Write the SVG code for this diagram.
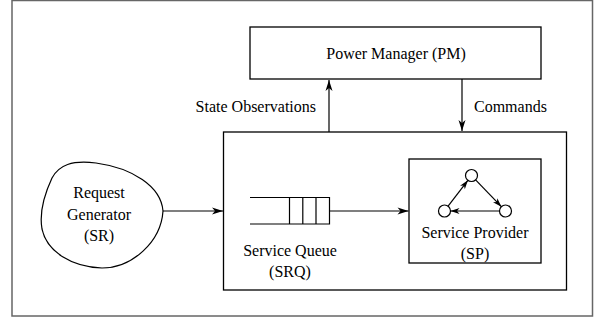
<svg xmlns="http://www.w3.org/2000/svg" width="596" height="320" viewBox="0 0 596 320">
<defs>
<marker id="ah" markerUnits="userSpaceOnUse" markerWidth="14" markerHeight="10" viewBox="-12 -5 14 10" refX="0" refY="0" orient="auto">
<path d="M0,0 L-11,-3.5 L-8,0 L-11,3.5 Z" fill="#000"/>
</marker>
<marker id="ahs" markerUnits="userSpaceOnUse" markerWidth="12" markerHeight="8" viewBox="-10 -4 12 8" refX="0" refY="0" orient="auto">
<path d="M0,0 L-9,-3 L-6.5,0 L-9,3 Z" fill="#000"/>
</marker>
</defs>
<style>
.box{fill:#fff;stroke:#000;stroke-width:1.3}
.ln{fill:none;stroke:#000;stroke-width:1.2}
.t{font-family:"Liberation Serif","Times New Roman",serif;font-size:16px;fill:#000}
.c{text-anchor:middle}
</style>
<rect x="12" y="0.5" width="580.5" height="315.5" fill="#fff" stroke="#666" stroke-width="1.5"/>
<g id="pm">
<rect class="box" x="250" y="27" width="291" height="52"/>
<text class="t c" x="396" y="59">Power Manager (PM)</text>
</g>
<g id="system">
<rect class="box" x="223.5" y="132" width="343" height="158"/>
</g>
<g id="sr">
<path class="ln" d="M163,211 C161,186 132,168 96,163 C72,160 59,165 52,178 C45,193 39,212 42,229 C47,252 72,267 102,268 C132,268 161,242 163,211 Z"/>
<text class="t c" x="99" y="198">Request</text>
<text class="t c" x="99" y="220">Generator</text>
<text class="t c" x="99" y="241">(SR)</text>
</g>
<g id="srq">
<path class="ln" d="M250,197.5 H329.5 V224 H250 M289.5,197.5 V224 M302.8,197.5 V224 M316,197.5 V224"/>
<text class="t c" x="290" y="256">Service Queue</text>
<text class="t c" x="290" y="277">(SRQ)</text>
</g>
<g id="sp">
<rect class="box" x="409" y="159" width="132" height="104"/>
<circle class="ln" cx="471.5" cy="175.5" r="6"/>
<circle class="ln" cx="444.5" cy="211" r="6"/>
<circle class="ln" cx="505.5" cy="211" r="6"/>
<text class="t c" x="475" y="238">Service Provider</text>
<text class="t c" x="475" y="259">(SP)</text>
</g>
<g id="connectors">
<line class="ln" x1="329" y1="132" x2="329" y2="80" marker-end="url(#ah)"/>
<line class="ln" x1="462" y1="79" x2="462" y2="131" marker-end="url(#ah)"/>
<line class="ln" x1="163" y1="211" x2="223" y2="211" marker-end="url(#ah)"/>
<line class="ln" x1="329.5" y1="211" x2="408.5" y2="211" marker-end="url(#ah)"/>
<line class="ln" x1="448.1" y1="206.2" x2="467.9" y2="180.3" marker-end="url(#ahs)"/>
<line class="ln" x1="475.6" y1="179.8" x2="501.4" y2="206.7" marker-end="url(#ahs)"/>
<line class="ln" x1="499.5" y1="211" x2="450.5" y2="211" marker-end="url(#ahs)"/>
</g>
<text class="t" x="316" y="112" text-anchor="end">State Observations</text>
<text class="t" x="474" y="112">Commands</text>
</svg>
